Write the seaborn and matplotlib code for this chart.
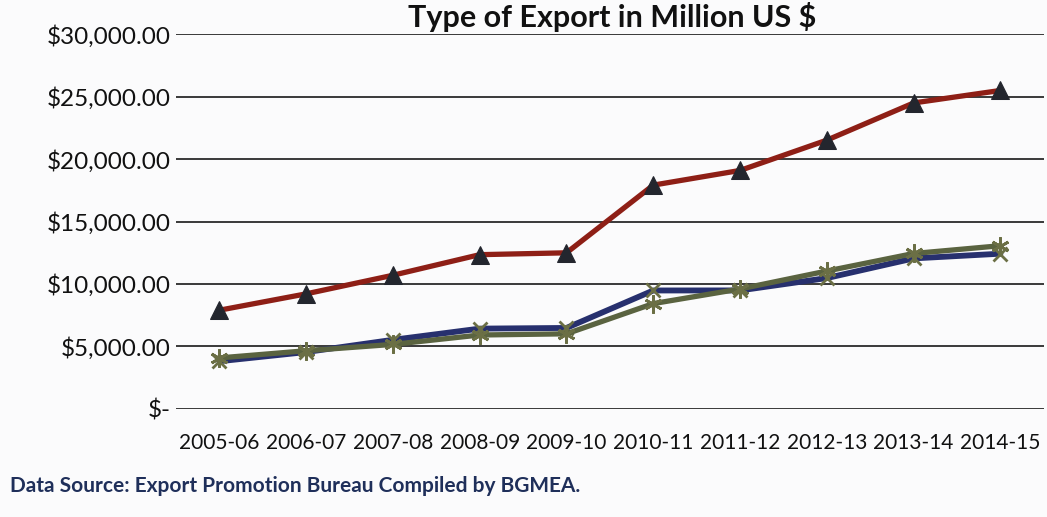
import matplotlib
matplotlib.use("Agg")
import matplotlib.pyplot as plt
import seaborn as sns

# Fiscal years and export values (million US $)
years = ["2005-06", "2006-07", "2007-08", "2008-09", "2009-10",
         "2010-11", "2011-12", "2012-13", "2013-14", "2014-15"]
total_rmg = [7901.80, 9211.23, 10699.80, 12347.77, 12496.72,
             17914.46, 19089.69, 21515.73, 24491.88, 25491.40]
knit = [3817.98, 4553.54, 5532.52, 6429.26, 6483.29,
        9482.06, 9486.39, 10475.88, 12049.81, 12426.79]
woven = [4083.82, 4657.69, 5167.28, 5918.51, 6013.43,
         8432.40, 9603.34, 11039.85, 12442.07, 13064.61]
y_ticks = [0, 5000, 10000, 15000, 20000, 25000, 30000]
y_tick_labels = ["$-", "$5,000.00", "$10,000.00", "$15,000.00",
                 "$20,000.00", "$25,000.00", "$30,000.00"]

sns.set_theme(style="white")
plt.rcParams["font.family"] = ["Lato", "DejaVu Sans"]

fig = plt.figure(figsize=(10.47, 5.17), dpi=100)
fig.patch.set_facecolor("#fbfbfc")
ax = fig.add_axes([0.168, 0.209, 0.829, 0.725])
ax.set_facecolor("#fbfbfc")

x_pos = list(range(len(years)))

# Knit: navy line with x markers
sns.lineplot(x=x_pos, y=knit, ax=ax, color="#27306e", linewidth=4.2,
             marker="x", markersize=10, markeredgewidth=2,
             markeredgecolor="#6b6f45", sort=False, legend=False)
# Woven: olive line with asterisk markers
sns.lineplot(x=x_pos, y=woven, ax=ax, color="#5a6340", linewidth=3.8,
             marker=(6, 2, 0), markersize=13, markeredgewidth=2,
             markeredgecolor="#6b6f45", sort=False, legend=False)
# Total RMG: dark red line with triangle markers
sns.lineplot(x=x_pos, y=total_rmg, ax=ax, color="#8e1f16", linewidth=3.8,
             marker="^", markersize=13, markerfacecolor="#23262e",
             markeredgecolor="#23262e", sort=False, legend=False)

ax.set_ylim(0, 30000)
ax.set_xlim(-0.5, len(years) - 0.5)
ax.set_yticks(y_ticks)
ax.set_yticklabels(y_tick_labels, fontsize=17.5, color="#111111")
ax.set_xticks(x_pos)
ax.set_xticklabels(years, fontsize=15, color="#111111")
ax.tick_params(axis="both", length=0)
ax.tick_params(axis="y", pad=4)
ax.tick_params(axis="x", pad=17)
ax.set_xlabel("")
ax.set_ylabel("")
ax.grid(axis="y", color="#2a2a2a", linewidth=1.3)
ax.set_axisbelow(True)
for s in ax.spines.values():
    s.set_visible(False)

fig.text(0.585, 0.997, "Type of Export in Million US $", ha="center",
         va="top", fontsize=22, fontweight="bold", color="#111111")
fig.text(0.01, 0.048, "Data Source: Export Promotion Bureau Compiled by BGMEA.",
         ha="left", va="baseline", fontsize=15, fontweight="bold",
         color="#1f2f5a")

fig.savefig("out.png", dpi=100, facecolor=fig.get_facecolor())
